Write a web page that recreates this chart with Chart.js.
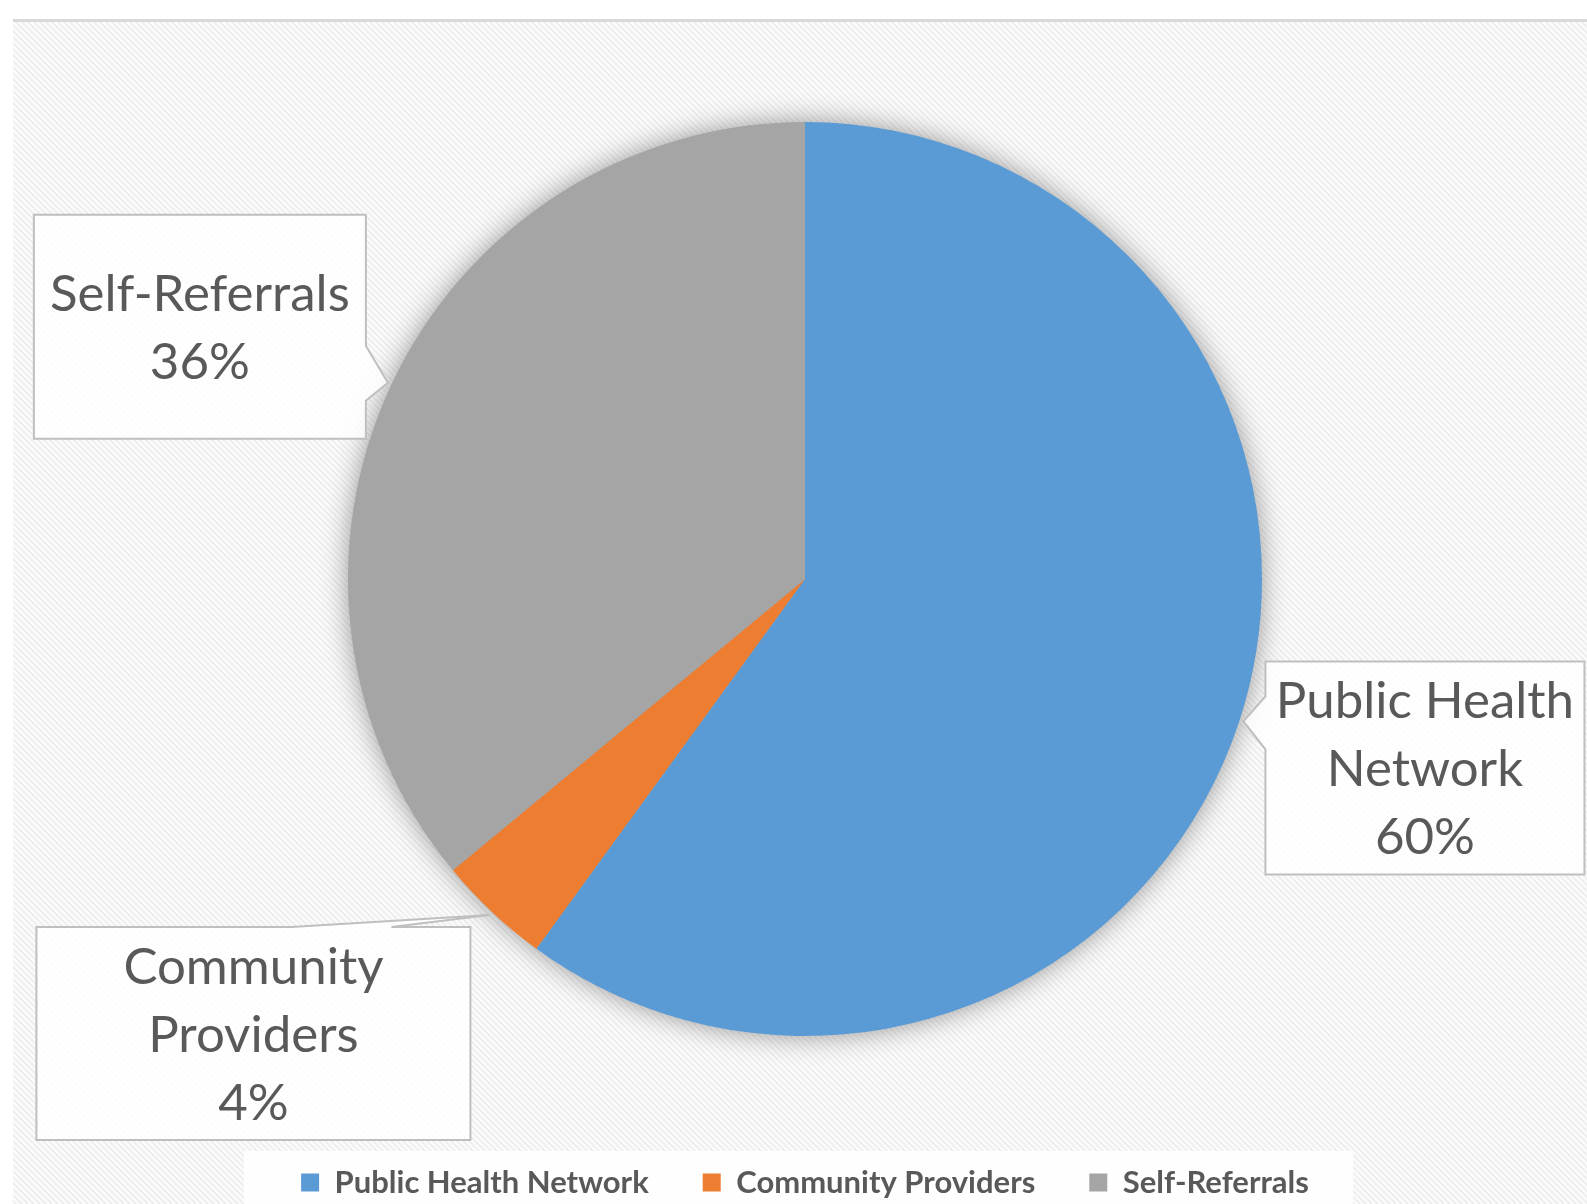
<!DOCTYPE html>
<html>
<head>
<meta charset="UTF-8">
<title>Referral Sources</title>
<style>
html, body { margin: 0; padding: 0; background: #fff; }
#wrap { width: 1587px; height: 1204px; position: relative; }
</style>
</head>
<body>
<div id="wrap">
  <canvas id="pieChart"></canvas>
</div>

<script src="https://cdn.jsdelivr.net/npm/chart.js"></script>
<script>
// data
const categories = ['Public Health Network', 'Community Providers', 'Self-Referrals'];
const shares = [60, 4, 36];
const sliceColors = ['#5B9BD5', '#ED7D31', '#A5A5A5'];

// callout boxes, placed relative to the tip that sits on each slice's edge
const callouts = [
  { dx: 22, dy: -60, w: 319, h: 213, side: 'left', p0: 35, p1: 88 },
  { dx: -453, dy: 12, w: 434, h: 213, side: 'top', p0: 255, p1: 355 },
  { dx: -354, dy: -168, w: 332, h: 224, side: 'right', p0: 131, p1: 186 }
];

const textGrey = '#595959';
const calloutFont = '51px Lato';

// hatched background tile
const tile = document.createElement('canvas');
tile.width = 6; tile.height = 6;
const tc = tile.getContext('2d');
tc.fillStyle = '#fbfbfb';
tc.fillRect(0, 0, 6, 6);
tc.strokeStyle = '#ededed';
tc.lineWidth = 1.6;
tc.beginPath();
tc.moveTo(0, 0); tc.lineTo(6, 6);
tc.moveTo(-3, 3); tc.lineTo(3, 9);
tc.moveTo(3, -3); tc.lineTo(9, 3);
tc.stroke();

const backdrop = {
  id: 'backdrop',
  beforeDraw(chart) {
    const ctx = chart.ctx;
    const W = chart.width, H = chart.height;
    ctx.save();
    ctx.fillStyle = '#ffffff';
    ctx.fillRect(0, 0, W, H);
    ctx.fillStyle = ctx.createPattern(tile, 'repeat');
    ctx.fillRect(13, 22, W - 13, H - 22);
    ctx.fillStyle = '#d9d9d9';
    ctx.fillRect(13, 19, W - 13, 3);

    // white panel behind the legend
    const hb = chart.legend.legendHitBoxes;
    if (hb && hb.length) {
      const first = hb[0], last = hb[hb.length - 1];
      ctx.fillStyle = 'rgba(255,255,255,0.9)';
      ctx.fillRect(first.left - 57, first.top - 16, last.left + last.width + 44 - (first.left - 57), H - first.top + 16);
    }
    ctx.restore();
  },
  beforeDatasetsDraw(chart) {
    // soft shadow round the whole pie
    const arc = chart.getDatasetMeta(0).data[0];
    if (!arc) return;
    const ctx = chart.ctx;
    ctx.save();
    ctx.shadowColor = 'rgba(0,0,0,0.42)';
    ctx.shadowBlur = 28;
    ctx.fillStyle = '#a5a5a5';
    ctx.beginPath();
    ctx.arc(arc.x, arc.y, arc.outerRadius - 1, 0, Math.PI * 2);
    ctx.fill();
    ctx.restore();
  }
};

function wrapWords(ctx, text, maxW) {
  const words = text.split(' ');
  const lines = [];
  let cur = '';
  words.forEach(w => {
    const test = cur ? cur + ' ' + w : w;
    if (cur && ctx.measureText(test).width > maxW) {
      lines.push(cur);
      cur = w;
    } else {
      cur = test;
    }
  });
  if (cur) lines.push(cur);
  return lines;
}

const calloutLabels = {
  id: 'calloutLabels',
  afterDatasetsDraw(chart) {
    const ctx = chart.ctx;
    const meta = chart.getDatasetMeta(0);
    const values = chart.data.datasets[0].data;
    const total = values.reduce((a, b) => a + b, 0);
    ctx.save();
    meta.data.forEach((arc, i) => {
      const c = callouts[i];
      const mid = (arc.startAngle + arc.endAngle) / 2;
      const tip = {
        x: arc.x + Math.cos(mid) * (arc.outerRadius + 4),
        y: arc.y + Math.sin(mid) * (arc.outerRadius + 4)
      };
      const x = tip.x + c.dx, y = tip.y + c.dy;

      ctx.beginPath();
      ctx.moveTo(x, y);
      if (c.side === 'top') { ctx.lineTo(x + c.p0, y); ctx.lineTo(tip.x, tip.y); ctx.lineTo(x + c.p1, y); }
      ctx.lineTo(x + c.w, y);
      if (c.side === 'right') { ctx.lineTo(x + c.w, y + c.p0); ctx.lineTo(tip.x, tip.y); ctx.lineTo(x + c.w, y + c.p1); }
      ctx.lineTo(x + c.w, y + c.h);
      ctx.lineTo(x, y + c.h);
      if (c.side === 'left') { ctx.lineTo(x, y + c.p1); ctx.lineTo(tip.x, tip.y); ctx.lineTo(x, y + c.p0); }
      ctx.closePath();
      ctx.fillStyle = 'rgba(255,255,255,0.82)';
      ctx.fill();
      ctx.strokeStyle = '#bfbfbf';
      ctx.lineWidth = 2;
      ctx.stroke();

      ctx.font = calloutFont;
      ctx.fillStyle = textGrey;
      ctx.textAlign = 'center';
      ctx.textBaseline = 'middle';
      const lines = wrapWords(ctx, chart.data.labels[i], c.w - 16);
      lines.push(Math.round(values[i] / total * 100) + '%');
      const lh = 68;
      const cy = y + c.h / 2 + 2;
      lines.forEach((t, k) => {
        ctx.fillText(t, x + c.w / 2, cy + (k - (lines.length - 1) / 2) * lh);
      });
    });
    ctx.restore();
  }
};

new Chart(document.getElementById('pieChart'), {
  type: 'pie',
  data: {
    labels: categories,
    datasets: [{
      data: shares,
      backgroundColor: sliceColors,
      borderWidth: 0
    }]
  },
  options: {
    responsive: true,
    maintainAspectRatio: false,
    devicePixelRatio: 1,
    animation: false,
    layout: { padding: { top: 122, left: 23, right: 0, bottom: -4 } },
    plugins: {
      tooltip: { enabled: false },
      legend: {
        position: 'bottom',
        title: { display: true, text: ' ', font: { size: 10, lineHeight: 1 }, padding: { top: 67, bottom: 0 } },
        labels: {
          color: textGrey,
          font: { family: 'Lato', size: 31, weight: 'bold' },
          boxWidth: 18,
          boxHeight: 18,
          padding: 54
        }
      }
    }
  },
  plugins: [backdrop, calloutLabels]
});
</script>
</body>
</html>
